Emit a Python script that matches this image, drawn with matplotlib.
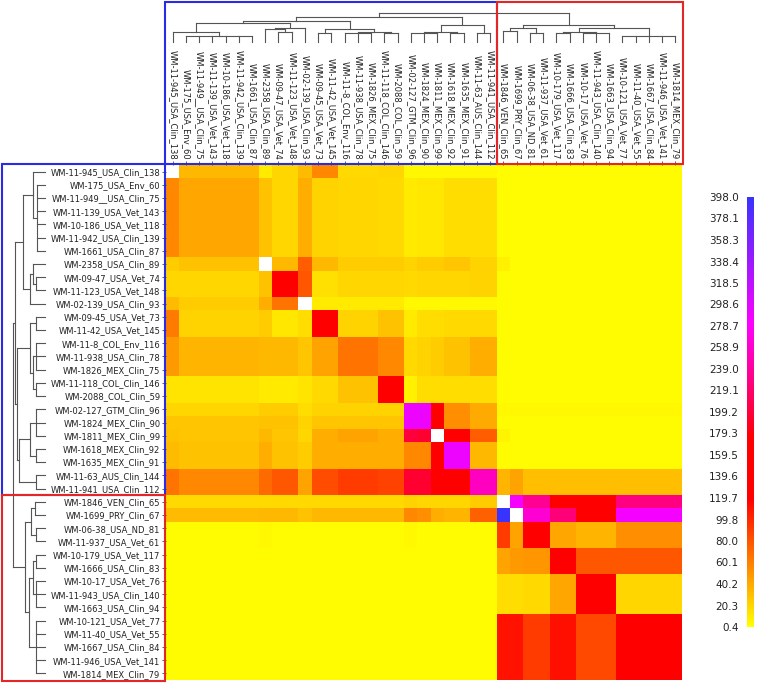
import numpy as np
import matplotlib
matplotlib.use("Agg")
import matplotlib.pyplot as plt
from matplotlib.colors import LinearSegmentedColormap
from matplotlib.patches import Rectangle

# leaf order (same for rows and columns)
labels = [
    "WM-11-945_USA_Clin_138", "WM-175_USA_Env_60", "WM-11-949__USA_Clin_75",
    "WM-11-139_USA_Vet_143", "WM-10-186_USA_Vet_118", "WM-11-942_USA_Clin_139",
    "WM-1661_USA_Clin_87", "WM-2358_USA_Clin_89", "WM-09-47_USA_Vet_74",
    "WM-11-123_USA_Vet_148", "WM-02-139_USA_Clin_93", "WM-09-45_USA_Vet_73",
    "WM-11-42_USA_Vet_145", "WM-11-8_COL_Env_116", "WM-11-938_USA_Clin_78",
    "WM-1826_MEX_Clin_75", "WM-11-118_COL_Clin_146", "WM-2088_COL_Clin_59",
    "WM-02-127_GTM_Clin_96", "WM-1824_MEX_Clin_90", "WM-1811_MEX_Clin_99",
    "WM-1618_MEX_Clin_92", "WM-1635_MEX_Clin_91", "WM-11-63_AUS_Clin_144",
    "WM-11-941_USA_Clin_112", "WM-1846_VEN_Clin_65", "WM-1699_PRY_Clin_67",
    "WM-06-38_USA_ND_81", "WM-11-937_USA_Vet_61", "WM-10-179_USA_Vet_117",
    "WM-1666_USA_Clin_83", "WM-10-17_USA_Vet_76", "WM-11-943_USA_Clin_140",
    "WM-1663_USA_Clin_94", "WM-10-121_USA_Vet_77", "WM-11-40_USA_Vet_55",
    "WM-1667_USA_Clin_84", "WM-11-946_USA_Vet_141", "WM-1814_MEX_Clin_79",
]
n_blue = 25   # first cluster (blue box), rest is red box

# heatmap read block by block (rows and cols share the same grouping)
group_sizes = [1, 6, 1, 2, 1, 2, 3, 2, 1, 1, 1, 2, 2, 1, 1, 2, 2, 3, 5]
nan = np.nan
block_values = [
    [nan, 34, 11, 20, 32, 56, 18, 20, 5, 5, 5, 4, 4, 3, 3, 3, 3, 3, 3],
    [56, 41, 29, 20, 38, 21, 20, 18, 10, 12, 12, 17, 17, 2, 2, 2, 2, 2, 2],
    [25, 29, nan, 34, 76, 34, 25, 24, 22, 24, 25, 27, 22, 7, 3, 3, 3, 3, 3],
    [20, 20, 29, 135, 79, 15, 20, 20, 18, 20, 20, 20, 22, 2, 2, 2, 2, 2, 2],
    [32, 25, 38, 65, nan, 10, 10, 10, 4, 4, 4, 4, 4, 2, 2, 2, 2, 2, 2],
    [61, 22, 25, 12, 16, 135, 22, 29, 11, 16, 16, 18, 18, 2, 2, 2, 2, 2, 2],
    [47, 36, 34, 34, 28, 43, 65, 56, 18, 22, 25, 29, 38, 2, 2, 2, 2, 2, 2],
    [13, 13, 11, 11, 13, 18, 29, 140, 7, 16, 16, 16, 16, 2, 2, 2, 2, 2, 2],
    [20, 20, 25, 25, 16, 22, 22, 22, 290, 290, 140, 52, 40, 4, 4, 4, 4, 4, 4],
    [27, 27, 29, 29, 22, 27, 27, 27, 290, 290, 140, 52, 40, 3, 3, 3, 3, 3, 3],
    [29, 27, 34, 27, 20, 38, 43, 38, 200, 195, nan, 140, 76, 6, 3, 3, 3, 3, 3],
    [32, 29, 38, 29, 25, 38, 38, 38, 56, 56, 140, 290, 34, 2, 2, 2, 2, 2, 2],
    [65, 56, 70, 79, 43, 83, 92, 88, 195, 195, 150, 150, 255, 36, 43, 30, 30, 30, 30],
    [18, 18, 18, 18, 18, 18, 18, 18, 22, 20, 20, 20, 25, nan, 285, 235, 150, 150, 228],
    [32, 32, 34, 34, 29, 34, 34, 34, 56, 52, 38, 36, 74, 398, nan, 262, 225, 150, 285],
    [2, 2, 5, 2, 2, 2, 2, 2, 5, 2, 2, 2, 2, 92, 43, 135, 41, 36, 52],
    [2, 2, 2, 2, 2, 2, 2, 2, 2, 2, 2, 2, 2, 43, 47, 49, 140, 79, 79],
    [2, 2, 2, 2, 2, 2, 2, 2, 2, 2, 2, 2, 2, 16, 16, 18, 41, 140, 20],
    [2, 2, 2, 2, 2, 2, 2, 2, 2, 2, 2, 2, 2, 110, 110, 92, 112, 85, 130],
]
vmin, vmax = 0.4, 398.0
cbar_labels = ["0.4", "20.3", "40.2", "60.1", "80.0", "99.8", "119.7", "139.6",
               "159.5", "179.3", "199.2", "219.1", "239.0", "258.9", "278.7",
               "298.6", "318.5", "338.4", "358.3", "378.1", "398.0"]

# dendrograms: (height, [children]); leaves are indices into labels
row_tree = (32, [
    (30, [
        (22, [(12, [0, (8, [1, 2, 3, 4, 5, 6])]),
              (15, [(12, [7, (9, [8, 9])]), 10])]),
        (28, [(15, [(9, [11, 12]), (12, [(9, [13, 14, 15]), (9, [16, 17])])]),
              (26, [(15, [(9, [18, 19, 20]), (9, [21, 22])]), (9, [23, 24])])]),
    ]),
    (20, [(14, [(10, [25, 26]), (9, [27, 28])]),
          (16, [(12, [(9, [29, 30]), (9, [31, 32, 33])]), (9, [34, 35, 36, 37, 38])])]),
])
col_tree = (29, [
    (25, [
        (21, [(19, [(10, [0, (6, [1, 2, 3, 4, 5, 6])]),
                    (14, [(13, [7, (10, [8, 9])]), 10])]),
              (13, [(9, [11, 12]), (10, [(9, [13, 14, 15]), (9, [16, 17])])])]),
        (17, [(10, [(9, [18, 19, 20]), (9, [21, 22])]), (9, [23, 24])]),
    ]),
    (17, [(14, [(11, [25, 26]), (9, [27, 28])]),
          (14, [(10, [(9, [29, 30]), (9, [31, 32, 33])]), (6, [34, 35, 36, 37, 38])])]),
])

B = np.array(block_values, dtype=float)
idx = np.repeat(np.arange(len(group_sizes)), group_sizes)
M = B[np.ix_(idx, idx)]
n = len(labels)

cmap = LinearSegmentedColormap.from_list("ylrdmgbl", [
    (0.0, (1, 1, 0)), (118 / 398, (1, 0, 0)), (175 / 398, (1, 0, 0)),
    (280 / 398, (1, 0, 1)), (1.0, (0.22, 0.2, 1.0))])
cmap.set_bad("white")

W, H = 759, 685
def rect(x0, y0, x1, y1):
    return [x0 / W, 1 - y1 / H, (x1 - x0) / W, (y1 - y0) / H]

fig = plt.figure(figsize=(W / 100, H / 100), dpi=100)
hx0, hy0, hx1, hy1 = 166, 165, 682, 680

ax = fig.add_axes(rect(hx0, hy0, hx1, hy1))
im = ax.imshow(M, cmap=cmap, vmin=vmin, vmax=vmax, aspect="auto", interpolation="nearest")
ax.xaxis.tick_top()
ax.set_xticks(range(n))
ax.set_xticklabels(labels, rotation=270, fontsize=6, color="#222")
ax.set_yticks(range(n))
ax.set_yticklabels(labels, fontsize=6, color="#222")
ax.tick_params(length=3, width=0.6, pad=1, colors="#444", labelcolor="#222")
for s in ax.spines.values():
    s.set_visible(False)

def seg(a, pos, hts, orient, base):
    hs = [base - v for v in hts]
    if orient == "left":
        a.plot(hs, pos, color="#555", lw=0.8)
    else:
        a.plot(pos, hs, color="#555", lw=0.8)

def draw_tree(a, node, orient, base):
    if isinstance(node, int):
        return float(node), 0.0
    h, kids = node
    pts = [draw_tree(a, k, orient, base) for k in kids]
    for p, ph in pts:
        seg(a, [p, p], [ph, h], orient, base)
    ps = [p for p, _ in pts]
    seg(a, [min(ps), max(ps)], [h, h], orient, base)
    return (min(ps) + max(ps)) / 2, h

axl = fig.add_axes(rect(0, hy0, 50, hy1))
axl.set_xlim(0, 50); axl.set_ylim(n - 0.5, -0.5); axl.axis("off")
draw_tree(axl, row_tree, "left", 45)

axt = fig.add_axes(rect(hx0, 0, hx1, 50))
axt.set_xlim(-0.5, n - 0.5); axt.set_ylim(50, 0); axt.axis("off")
draw_tree(axt, col_tree, "top", 42)

# cluster boxes
sx = hx0 + n_blue / n * (hx1 - hx0)
sy = hy0 + n_blue / n * (hy1 - hy0)
blue, red = "#2b2be6", "#e32626"
for (x0, y0, x1, y1, c) in [(hx0 - 1, 2, sx, hy0 - 1, blue), (sx, 2, hx1 + 1, hy0 - 1, red),
                            (2, hy0 - 1, hx0 - 1, sy, blue), (2, sy, hx0 - 1, hy1 + 1, red)]:
    fig.add_artist(Rectangle((x0 / W, 1 - y1 / H), (x1 - x0) / W, (y1 - y0) / H,
                             transform=fig.transFigure, fill=False, ec=c, lw=1.5))

cax = fig.add_axes(rect(747, 197, 754, 627))
cb = fig.colorbar(im, cax=cax, ticks=np.linspace(vmin, vmax, len(cbar_labels)))
cb.outline.set_visible(False)
cax.yaxis.set_ticks_position("left")
cax.set_yticklabels(cbar_labels)
cax.tick_params(length=0, pad=6, labelsize=7.5, labelcolor="#222")

fig.savefig("out.png", dpi=100)
